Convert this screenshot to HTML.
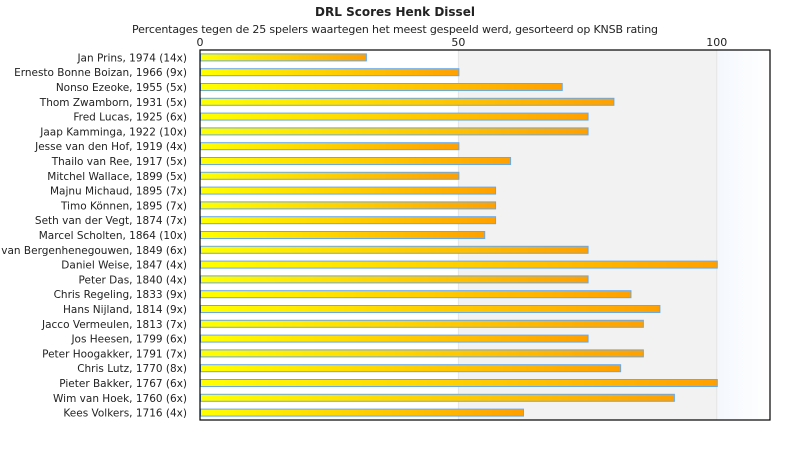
<!DOCTYPE html>
<html><head><meta charset="utf-8"><style>
body{margin:0;background:#fff;font-family:"DejaVu Sans","Liberation Sans",sans-serif;}
svg text{font-family:"DejaVu Sans","Liberation Sans",sans-serif;}
</style></head><body>
<svg id="chart" width="790" height="450">
<defs>
<linearGradient id="bg" x1="0" x2="1" y1="0" y2="0"><stop offset="0" stop-color="#ffff00"/><stop offset="1" stop-color="#ffa000"/></linearGradient>
<linearGradient id="rg" x1="0" x2="1"><stop offset="0" stop-color="#f4f8fd"/><stop offset="1" stop-color="#ffffff"/></linearGradient>
</defs>
<text x="395" y="16" text-anchor="middle" font-size="12" font-weight="bold" fill="#222">DRL Scores Henk Dissel</text>
<text x="395" y="33" text-anchor="middle" font-size="11" fill="#222" textLength="526">Percentages tegen de 25 spelers waartegen het meest gespeeld werd, gesorteerd op KNSB rating</text>
<g id="plot"></g>
</svg>
<script>
const categories=["Jan Prins, 1974 (14x)","Ernesto Bonne Boizan, 1966 (9x)","Nonso Ezeoke, 1955 (5x)","Thom Zwamborn, 1931 (5x)","Fred Lucas, 1925 (6x)","Jaap Kamminga, 1922 (10x)","Jesse van den Hof, 1919 (4x)","Thailo van Ree, 1917 (5x)","Mitchel Wallace, 1899 (5x)","Majnu Michaud, 1895 (7x)","Timo Können, 1895 (7x)","Seth van der Vegt, 1874 (7x)","Marcel Scholten, 1864 (10x)","Jan van Bergenhenegouwen, 1849 (6x)","Daniel Weise, 1847 (4x)","Peter Das, 1840 (4x)","Chris Regeling, 1833 (9x)","Hans Nijland, 1814 (9x)","Jacco Vermeulen, 1813 (7x)","Jos Heesen, 1799 (6x)","Peter Hoogakker, 1791 (7x)","Chris Lutz, 1770 (8x)","Pieter Bakker, 1767 (6x)","Wim van Hoek, 1760 (6x)","Kees Volkers, 1716 (4x)"];
const values=[32.1,50,70,80,75,75,50,60,50,57.1,57.1,57.1,55,75,100,75,83.3,88.9,85.7,75,85.7,81.3,100,91.7,62.5];
const tickValues=[0,50,100];
const NS="http://www.w3.org/2000/svg";
const L=200,R=770,T=50,B=420,maxV=110.3;
const x=v=>L+v/maxV*(R-L);
const band=(B-T)/categories.length;
const y=i=>T+i*band;
const g=document.getElementById('plot');
function mk(t,a){const e=document.createElementNS(NS,t);for(const k in a)e.setAttribute(k,a[k]);g.appendChild(e);return e;}
let r;
r=mk('rect',{x:L,y:T,width:x(50)-L,height:B-T,fill:'#ffffff'});


r=mk('rect',{x:x(50),y:T,width:x(100)-x(50),height:B-T,fill:'#f2f2f2'});


r=mk('rect',{x:x(100),y:T,width:R-x(100),height:B-T,fill:'url(#rg)'});


tickValues.forEach(v=>{
 const t=mk('text',{x:x(v),y:46,'text-anchor':'middle','font-size':11,fill:'#222'});
 t.textContent=v;
 
 
 if(v>0){const l=mk('line',{x1:x(v),x2:x(v),y1:T,y2:B,stroke:'#e4e4e4'});
 
 }
});
categories.forEach((c,i)=>{
 const cy=y(i)+band/2;
 const t=mk('text',{x:187,y:cy+4,'text-anchor':'end','font-size':10.5,fill:'#222'});
 t.textContent=c;
 
 
 const b=mk('rect',{x:L+0.5,y:cy-3.5,width:x(values[i])-L,height:7,fill:'url(#bg)',stroke:'#6aa8e8','stroke-width':1});
 
 
});
r=mk('rect',{x:L,y:T,width:R-L,height:B-T,fill:'none',stroke:'#000','stroke-width':1.2});


</script>
</body></html>
